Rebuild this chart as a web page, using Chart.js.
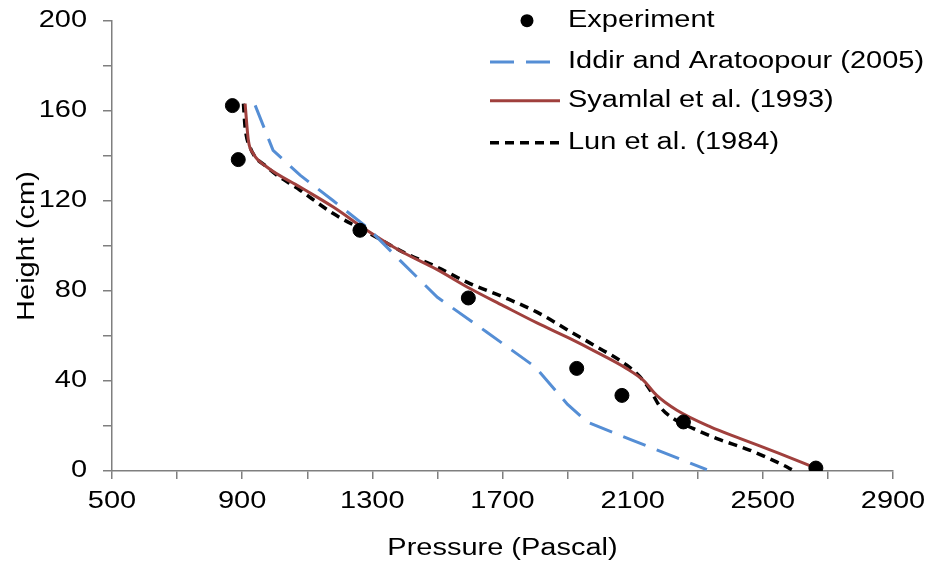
<!DOCTYPE html>
<html>
<head>
<meta charset="utf-8">
<script src="https://cdn.jsdelivr.net/npm/chart.js@4"></script>
<style>
  html, body { margin: 0; padding: 0; background: #fff; }
  #wrap { width: 934px; height: 566px; position: relative; }
</style>
</head>
<body>
<div id="wrap"><canvas id="pressureChart"></canvas></div>
<script>
/* Pressure profile along the riser: experiment vs. three drag/KT models */

const expPressure = [870, 888, 1262, 1595, 1928, 2067, 2256, 2663];
const expHeight   = [162.4, 138.4, 107, 76.9, 45.6, 33.6, 21.8, 1.3];

const iddirPressure = [940, 995, 1078, 1179, 1283, 1324, 1385, 1500, 1650, 1800, 1900, 1960, 2100, 2328];
const iddirHeight   = [162.5, 142.5, 131.5, 120.2, 108.4, 102.5, 93.6, 77.2, 61.9, 46.3, 29.6, 21.8, 13.6, 0.6];

const syamlalPressure = [909, 919, 934, 976, 1078, 1180, 1283, 1385, 1498, 1600, 1703, 1806, 1908, 1980,
                         2082, 2133, 2174, 2236, 2339, 2431, 2550, 2663];
const syamlalHeight   = [163.3, 147, 141.1, 135.1, 126.2, 117.3, 107, 97.9, 89.6, 81.1, 73.4, 65.8, 58.8, 53.5,
                         45.5, 40.3, 33.6, 27, 19.6, 14.4, 7.8, 1.3];

const lunPressure = [904, 909, 924, 976, 1078, 1180, 1293, 1395, 1498, 1600, 1703, 1806, 1908, 1980,
                     2082, 2123, 2154, 2185, 2225, 2287, 2359, 2461, 2564, 2589];
const lunHeight   = [163.3, 152.9, 144, 135.1, 124.8, 114.4, 105.5, 97.3, 90.7, 83.3, 77.3, 70.6, 62, 56,
                     47, 41.8, 35.9, 28.4, 23.3, 18.8, 14.4, 9.2, 2.5, 0.6];

const seriesLabels = ['Experiment', 'Iddir and Aratoopour (2005)', 'Syamlal et al. (1993)', 'Lun et al. (1984)'];

const xMin = 500, xMax = 2900, xStep = 200, xLabelStep = 400;
const yMin = 0, yMax = 200, yStep = 20, yLabelStep = 40;

const toPts = (xs, ys) => xs.map((x, i) => ({ x: x, y: ys[i] }));

const FONT = '"Liberation Sans", Arial, sans-serif';
const FSIZE = 23;
const STRETCH = 1.26;   // the original's lettering is wide, stretch it sideways
const AXIS = '#7f7f7f';

const stretchPlugin = {
  id: 'stretch',
  beforeInit(chart) {
    const ctx = chart.ctx;
    const fill = CanvasRenderingContext2D.prototype.fillText;
    ctx.fillText = function (text, x, y) {
      ctx.save();
      ctx.translate(x, y);
      ctx.scale(STRETCH, 1);
      fill.call(ctx, text, 0, 0);
      ctx.restore();
    };
  }
};

// legend sits inside the plot, top right
const legendPlugin = {
  id: 'insideLegend',
  afterDraw(chart) {
    const ctx = chart.ctx;
    const rows = [20.7, 62, 100.7, 142.7];
    ctx.save();
    ctx.font = FSIZE + 'px ' + FONT;
    ctx.textBaseline = 'middle';
    ctx.textAlign = 'left';
    chart.data.datasets.forEach((ds, i) => {
      const y = rows[i];
      if (ds.showLine === false) {
        ctx.beginPath();
        ctx.arc(527, y, 6.5, 0, Math.PI * 2);
        ctx.fillStyle = ds.backgroundColor;
        ctx.fill();
      } else {
        ctx.beginPath();
        ctx.setLineDash(ds.borderDash || []);
        ctx.strokeStyle = ds.borderColor;
        ctx.lineWidth = ds.borderWidth;
        ctx.moveTo(490, y);
        ctx.lineTo(560, y);
        ctx.stroke();
        ctx.setLineDash([]);
      }
      ctx.fillStyle = '#000';
      ctx.fillText(ds.label, 568, y);
    });
    ctx.restore();
  }
};

new Chart(document.getElementById('pressureChart'), {
  type: 'scatter',
  data: {
    datasets: [
      {
        label: seriesLabels[0],
        data: toPts(expPressure, expHeight),
        showLine: false,
        pointRadius: 7, pointHoverRadius: 7,
        backgroundColor: '#000', borderColor: '#000', borderWidth: 1
      },
      {
        label: seriesLabels[1],
        data: toPts(iddirPressure, iddirHeight),
        showLine: true, pointRadius: 0, tension: 0,
        borderColor: '#558ED5', backgroundColor: '#558ED5',
        borderWidth: 3, borderDash: [24, 12]
      },
      {
        label: seriesLabels[2],
        data: toPts(syamlalPressure, syamlalHeight),
        showLine: true, pointRadius: 0, cubicInterpolationMode: 'monotone',
        borderColor: '#A0403D', backgroundColor: '#A0403D',
        borderWidth: 3
      },
      {
        label: seriesLabels[3],
        data: toPts(lunPressure, lunHeight),
        showLine: true, pointRadius: 0, cubicInterpolationMode: 'monotone',
        borderColor: '#000', backgroundColor: '#000',
        borderWidth: 3.5, borderDash: [9, 6]
      }
    ]
  },
  options: {
    responsive: true, maintainAspectRatio: false, animation: false,
    layout: { padding: { top: 21, right: 41, left: 0, bottom: 0 } },
    plugins: { legend: { display: false }, tooltip: { enabled: false } },
    scales: {
      x: {
        type: 'linear', min: xMin, max: xMax,
        afterFit: s => { s.height = 95; },
        grid: { drawOnChartArea: false, drawTicks: true, tickLength: 8, color: AXIS, lineWidth: 1.5 },
        border: { display: true, color: AXIS, width: 1.5 },
        ticks: {
          stepSize: xStep, autoSkip: false, maxRotation: 0, padding: 9,
          color: '#000', font: { family: FONT, size: FSIZE },
          callback: v => ((v - xMin) % xLabelStep === 0 ? String(v) : '')
        },
        title: {
          display: true, text: 'Pressure (Pascal)', color: '#000',
          font: { family: FONT, size: FSIZE }, padding: 4
        }
      },
      y: {
        type: 'linear', min: yMin, max: yMax,
        afterFit: s => { s.width = 112; s.paddingTop = 0; s.paddingBottom = 0; },
        grid: { drawOnChartArea: false, drawTicks: true, tickLength: 9, color: AXIS, lineWidth: 1.5 },
        border: { display: true, color: AXIS, width: 1.5 },
        ticks: {
          stepSize: yStep, autoSkip: false, padding: 16,
          color: '#000', font: { family: FONT, size: FSIZE },
          callback: v => (v % yLabelStep === 0 ? String(v) : '')
        },
        title: {
          display: true, text: 'Height (cm)', color: '#000',
          font: { family: FONT, size: FSIZE }, padding: 14
        }
      }
    }
  },
  plugins: [stretchPlugin, legendPlugin]
});
</script>
</body>
</html>
